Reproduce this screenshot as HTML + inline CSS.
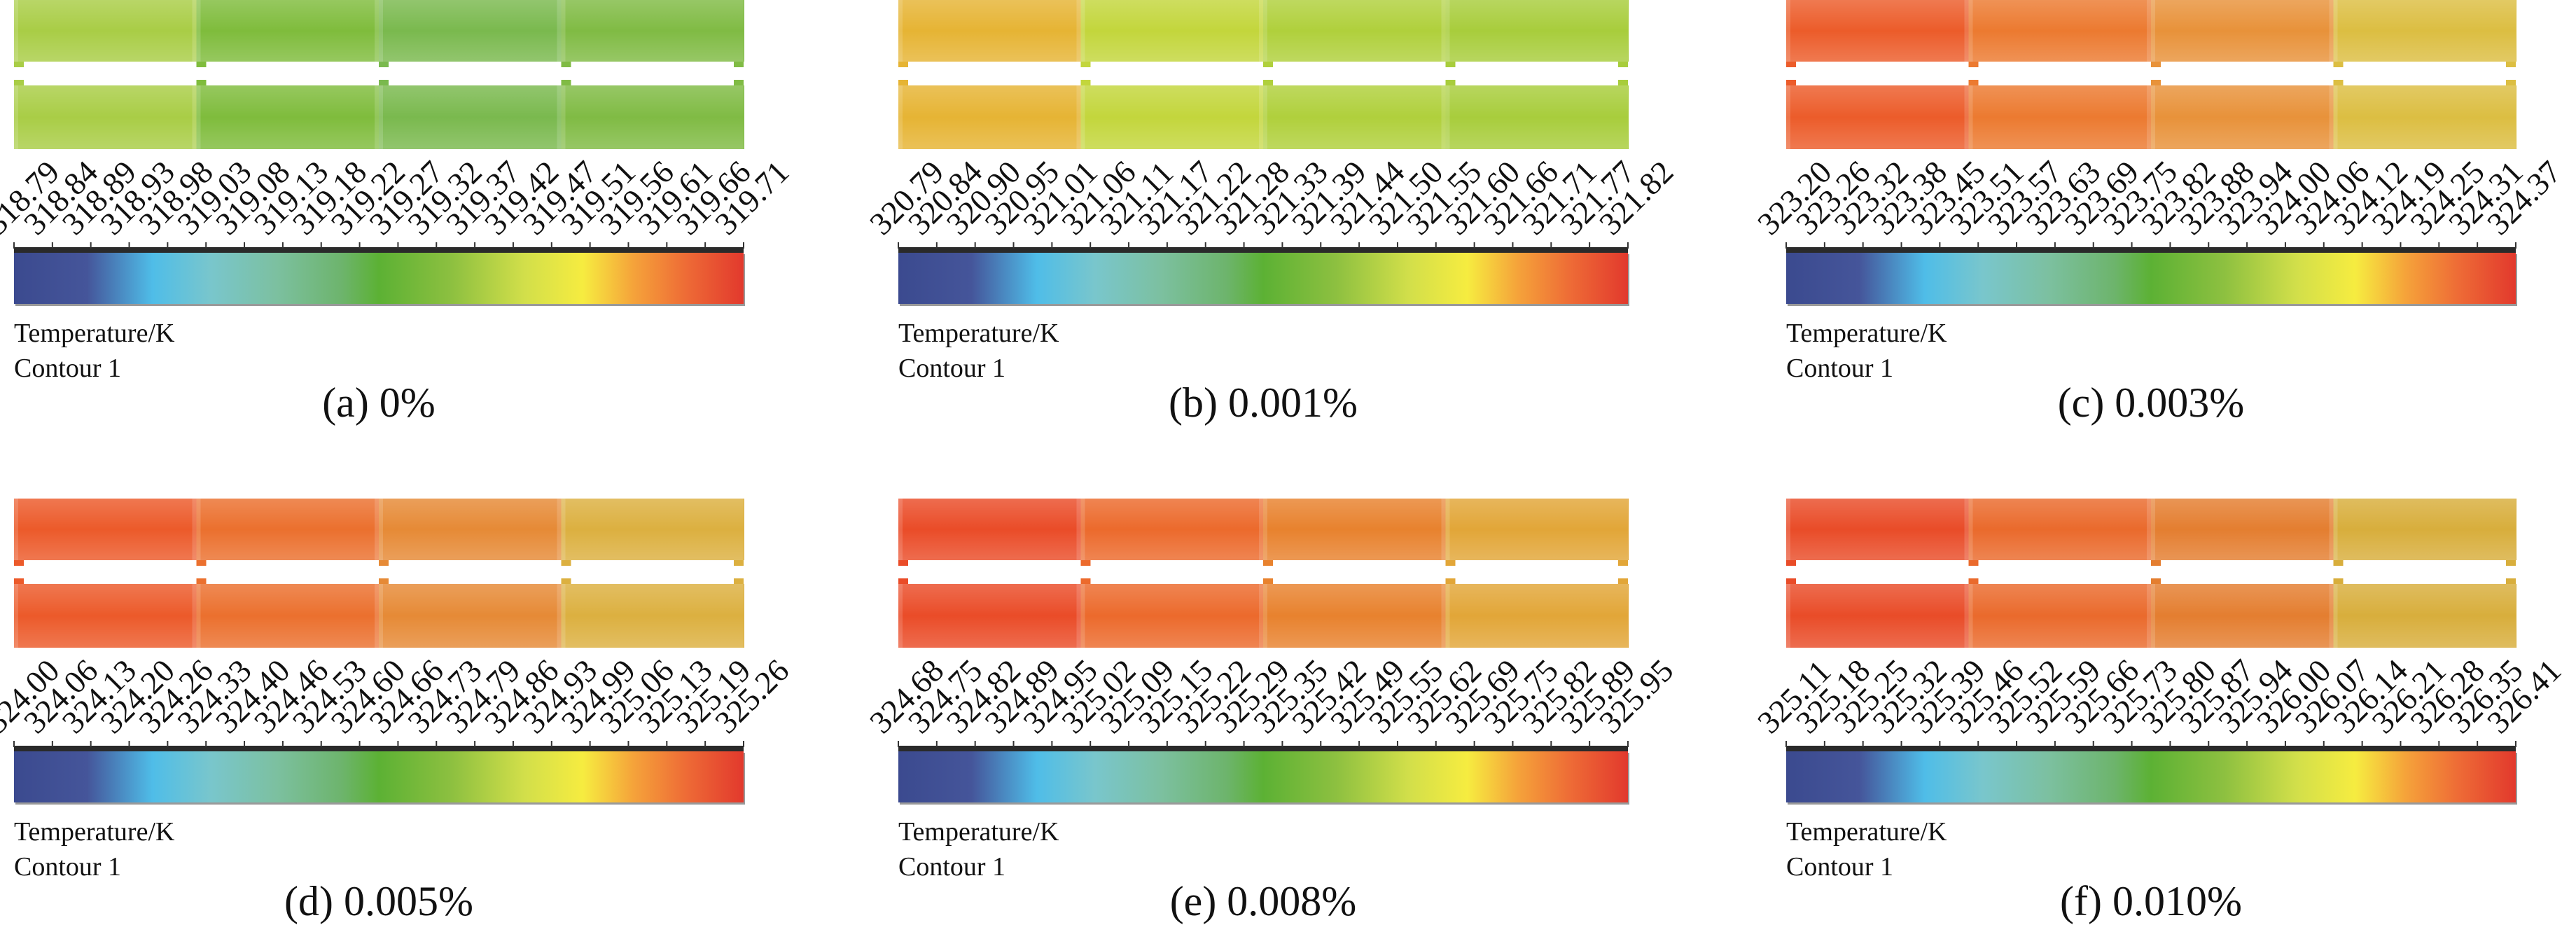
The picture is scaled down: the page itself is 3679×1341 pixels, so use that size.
<!DOCTYPE html>
<html><head><meta charset="utf-8">
<style>
html,body{margin:0;padding:0;background:#fff;}
svg{display:block;}
text{font-family:"Liberation Serif","DejaVu Serif",serif;fill:#111;}
</style></head>
<body>
<svg id="fig" width="3679" height="1341" viewBox="0 0 3679 1341" xmlns="http://www.w3.org/2000/svg">
<defs>
<linearGradient id="cbar" x1="0" x2="1" y1="0" y2="0">
<stop offset="0" stop-color="#3b4a8f"/>
<stop offset="0.1" stop-color="#45559a"/>
<stop offset="0.19" stop-color="#4fbde8"/>
<stop offset="0.27" stop-color="#79c6cc"/>
<stop offset="0.36" stop-color="#7cc0a0"/>
<stop offset="0.45" stop-color="#6db46c"/>
<stop offset="0.5" stop-color="#5cb134"/>
<stop offset="0.6" stop-color="#8dc040"/>
<stop offset="0.7" stop-color="#d2df4a"/>
<stop offset="0.78" stop-color="#f6ec40"/>
<stop offset="0.85" stop-color="#f5a23a"/>
<stop offset="0.92" stop-color="#ee6c36"/>
<stop offset="1" stop-color="#e2392d"/>
</linearGradient>
<linearGradient id="vshade" x1="0" x2="0" y1="0" y2="1">
<stop offset="0" stop-color="#ffffff" stop-opacity="0.18"/>
<stop offset="0.5" stop-color="#ffffff" stop-opacity="0"/>
<stop offset="1" stop-color="#ffffff" stop-opacity="0.18"/>
</linearGradient>
</defs>
</svg>
<script>
const panelLetters = ['a','b','c','d','e','f'];
const panelCaptions = ['(a) 0%','(b) 0.001%','(c) 0.003%','(d) 0.005%','(e) 0.008%','(f) 0.010%'];
const ticksA = ['318.79','318.84','318.89','318.93','318.98','319.03','319.08','319.13','319.18','319.22','319.27','319.32','319.37','319.42','319.47','319.51','319.56','319.61','319.66','319.71'];
const ticksB = ['320.79','320.84','320.90','320.95','321.01','321.06','321.11','321.17','321.22','321.28','321.33','321.39','321.44','321.50','321.55','321.60','321.66','321.71','321.77','321.82'];
const ticksC = ['323.20','323.26','323.32','323.38','323.45','323.51','323.57','323.63','323.69','323.75','323.82','323.88','323.94','324.00','324.06','324.12','324.19','324.25','324.31','324.37'];
const ticksD = ['324.00','324.06','324.13','324.20','324.26','324.33','324.40','324.46','324.53','324.60','324.66','324.73','324.79','324.86','324.93','324.99','325.06','325.13','325.19','325.26'];
const ticksE = ['324.68','324.75','324.82','324.89','324.95','325.02','325.09','325.15','325.22','325.29','325.35','325.42','325.49','325.55','325.62','325.69','325.75','325.82','325.89','325.95'];
const ticksF = ['325.11','325.18','325.25','325.32','325.39','325.46','325.52','325.59','325.66','325.73','325.80','325.87','325.94','326.00','326.07','326.14','326.21','326.28','326.35','326.41'];
const segColorsA = ['#a9cd46','#7fbc3c','#7ab94e','#80bb44'];
const segColorsB = ['#e6b434','#c3d63c','#b0d03c','#a8cd3c'];
const segColorsC = ['#ec5c2a','#ec7a30','#e8923a','#dcbe42'];
const segColorsD = ['#ec5a2a','#eb702e','#e68a36','#dcb040'];
const segColorsE = ['#ea4c28','#ec6a2c','#e8822e','#e2a638'];
const segColorsF = ['#e94c28','#ea6a2c','#e47e30','#d8ae3c'];

const allTicks=[ticksA,ticksB,ticksC,ticksD,ticksE,ticksF];
const allSegs=[segColorsA,segColorsB,segColorsC,segColorsD,segColorsE,segColorsF];
const colX=[20,1283,2551], rowY=[0,712], W=1042;
const NS='http://www.w3.org/2000/svg';
const svg=document.getElementById('fig');
function mk(tag,attrs,parent){const e=document.createElementNS(NS,tag);for(const k in attrs)e.setAttribute(k,attrs[k]);(parent||svg).appendChild(e);return e;}

for(let p=0;p<6;p++){
  const x0=colX[p%3], y0=rowY[Math.floor(p/3)];
  const g=mk('g',{});
  
  
  const segs=allSegs[p];
  [[0,88],[122,213]].forEach((st,si)=>{
    const sg=mk('g',{},g);
    
    
    const sw=W/segs.length;
    for(let k=0;k<segs.length;k++){
      mk('rect',{x:x0+k*sw,y:y0+st[0],width:sw+1,height:st[1]-st[0],fill:segs[k]},sg);
      mk('rect',{x:x0+k*sw-6,y:y0+st[0],width:12,height:st[1]-st[0],fill:'#ffffff','fill-opacity':0.15},sg);
    }
    mk('rect',{x:x0,y:y0+st[0],width:W,height:st[1]-st[0],fill:'url(#vshade)'},sg);
    for(let k=0;k<=segs.length;k++){
      const bx=x0+Math.min(k*sw,W-14);
      mk('rect',{x:bx,y:y0+(si===0?st[1]:st[0]-8),width:14,height:8,fill:segs[Math.min(k,segs.length-1)]},sg);
    }
  });
  const tb=mk('rect',{x:x0,y:y0+353,width:W,height:8,fill:'#2a2a2a'},g);
  
  
  const cbs=mk('rect',{x:x0+2,y:y0+363,width:W,height:74,fill:'#9a9a9a'},g);
  
  
  const cb=mk('rect',{x:x0,y:y0+361,width:W,height:73,fill:'url(#cbar)'},g);
  
  
  const ticks=allTicks[p];
  const step=W/(ticks.length-1);
  ticks.forEach((t,i)=>{
    const tx=x0+i*step;
    const tm=mk('line',{x1:tx,x2:tx,y1:y0+346,y2:y0+355,stroke:'#333','stroke-width':2},g);
    
    
    const lx=tx-22, ly=y0+338;
    const tl=mk('text',{x:lx,y:ly,'font-size':46,transform:'rotate(-45 '+lx+' '+ly+')'},g);
    
    
    tl.textContent=t;
  });
  const t1=mk('text',{x:x0,y:y0+488,'font-size':38},g);
  
  
  t1.textContent='Temperature/K';
  const t2=mk('text',{x:x0,y:y0+538,'font-size':38},g);
  
  
  t2.textContent='Contour 1';
  const cap=mk('text',{x:x0+W/2,y:y0+595,'font-size':60,'text-anchor':'middle'},g);
  
  
  cap.textContent=panelCaptions[p];
}
</script>
</body></html>
